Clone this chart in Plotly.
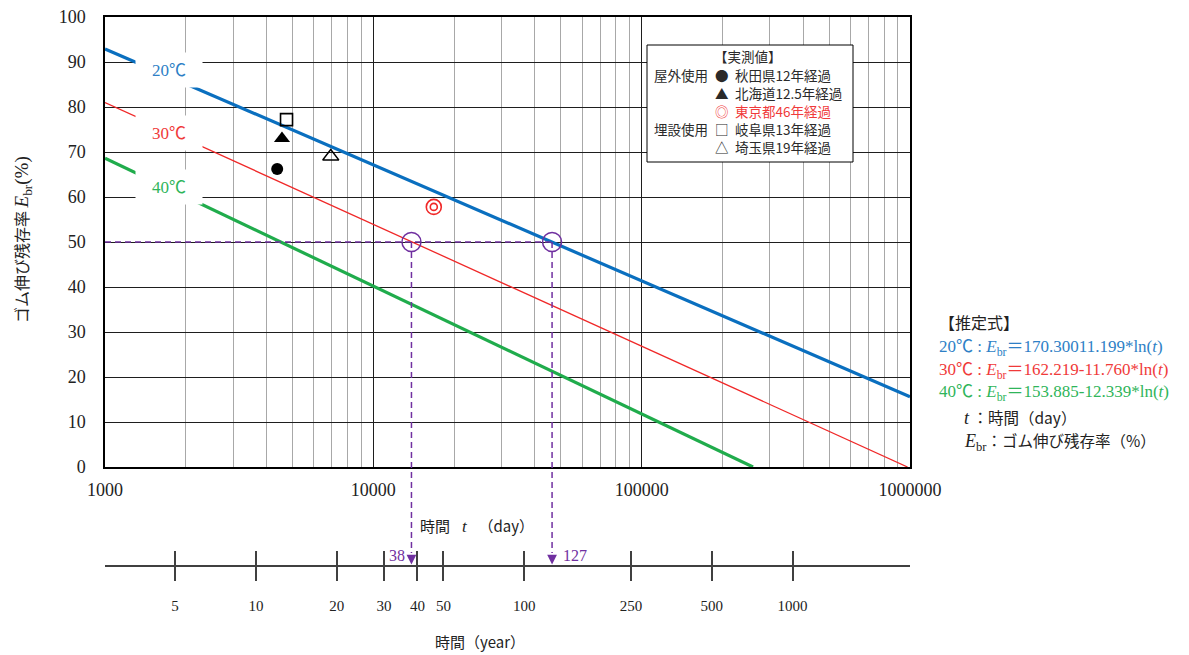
import math
import plotly.graph_objects as go

# ---------------- data ----------------
# Regression lines (end points, days / %)
days_20 = [1000, 1000000]
ebr_20 = [92.9, 15.6]
days_30 = [1000, 979000]
ebr_30 = [81.0, 0.0]
days_40 = [1000, 260000]
ebr_40 = [68.6, 0.0]

# Measured values (days, %)
akita_days, akita_ebr = [4383], [66.2]          # 秋田県12年経過
hokkaido_days, hokkaido_ebr = [4566], [73.0]    # 北海道12.5年経過
tokyo_days, tokyo_ebr = [16801], [57.8]         # 東京都46年経過
gifu_days, gifu_ebr = [4748], [77.2]            # 岐阜県13年経過
saitama_days, saitama_ebr = [6940], [69.0]      # 埼玉県19年経過

# 50 % crossing
cross_years = [38, 127]
cross_level = [50, 50]

# Year axis
year_ticks = [5, 10, 20, 30, 40, 50, 100, 250, 500, 1000]
DAYS_PER_YEAR = 365

x_tickvals = [1000, 10000, 100000, 1000000]
x_ticktext = ["1000", "10000", "100000", "1000000"]
X_RANGE = [3, 6]  # log10(days)

# ---------------- style ----------------
W, H = 1189, 655
ML, MR, MT, MB = 105, 279, 17, 0
PW = W - ML - MR
PH = H - MT - MB
SERIF = "Liberation Serif, Noto Sans CJK JP, serif"
CJK = "Noto Sans CJK JP, sans-serif"
BLUE, RED, GREEN, PURPLE = "#0a6fbf", "#f02828", "#20ac4c", "#7030a0"
BLUE_T, RED_T, GREEN_T = "#2e7fc6", "#f03a3a", "#2fb55a"


def px2x(px):
    return (px - ML) / PW


def py2y(py):
    return (H - MB - py) / PH


def day2paper(d):
    return (math.log10(d) - X_RANGE[0]) / (X_RANGE[1] - X_RANGE[0])


main_dom0 = py2y(467)
yr_dom = [py2y(565), py2y(550)]

cross_days = [y * DAYS_PER_YEAR for y in cross_years]
year_tick_days = [y * DAYS_PER_YEAR for y in year_ticks]

fig = go.Figure()

# regression lines
fig.add_trace(go.Scatter(x=days_20, y=ebr_20, mode="lines", line=dict(color=BLUE, width=3.2), hoverinfo="skip"))
fig.add_trace(go.Scatter(x=days_30, y=ebr_30, mode="lines", line=dict(color=RED, width=1.3), hoverinfo="skip"))
fig.add_trace(go.Scatter(x=days_40, y=ebr_40, mode="lines", line=dict(color=GREEN, width=3.2), hoverinfo="skip"))

# horizontal dashed line at 50 %
fig.add_trace(go.Scatter(x=[days_30[0], cross_days[1]], y=cross_level, mode="lines",
                         line=dict(color=PURPLE, width=1.5, dash="6px,4px"), hoverinfo="skip"))
# crossing circles
fig.add_trace(go.Scatter(x=cross_days, y=cross_level, mode="markers",
                         marker=dict(symbol="circle-open", size=19, color=PURPLE, line=dict(width=1.5, color=PURPLE)),
                         hoverinfo="skip"))

# measured points
fig.add_trace(go.Scatter(x=akita_days, y=akita_ebr, mode="markers",
                         marker=dict(symbol="circle", size=12, color="black")))
fig.add_trace(go.Scatter(x=hokkaido_days, y=hokkaido_ebr, mode="markers",
                         marker=dict(symbol="triangle-up", size=14, color="black")))
fig.add_trace(go.Scatter(x=gifu_days, y=gifu_ebr, mode="markers",
                         marker=dict(symbol="square-open", size=12, color="black", line=dict(width=1.6, color="black"))))
fig.add_trace(go.Scatter(x=saitama_days, y=saitama_ebr, mode="markers",
                         marker=dict(symbol="triangle-up-open", size=14, color="black", line=dict(width=1.4, color="black"))))
fig.add_trace(go.Scatter(x=tokyo_days, y=tokyo_ebr, mode="markers",
                         marker=dict(symbol="circle-open", size=15, color=RED, line=dict(width=1.6, color=RED))))
fig.add_trace(go.Scatter(x=tokyo_days, y=tokyo_ebr, mode="markers",
                         marker=dict(symbol="circle-open", size=7, color=RED, line=dict(width=1.6, color=RED))))

# year axis carrier traces
fig.add_trace(go.Scatter(x=year_tick_days, y=[0.5] * len(year_tick_days), xaxis="x2", yaxis="y2",
                         mode="markers", marker=dict(opacity=0), hoverinfo="skip"))
fig.add_trace(go.Scatter(x=year_tick_days, y=[0.5] * len(year_tick_days), xaxis="x3", yaxis="y2",
                         mode="markers", marker=dict(opacity=0), hoverinfo="skip"))

minor_vals = [m * 10 ** k for k in range(3, 6) for m in range(2, 10)]
year_tick_common = dict(type="log", range=X_RANGE, domain=[0, 1], anchor="y2",
                        tickmode="array", tickvals=year_tick_days,
                        ticklen=14, tickwidth=1.5, tickcolor="#404040",
                        showgrid=False, zeroline=False, automargin=False, fixedrange=True)

fig.update_layout(
    width=W, height=H, autosize=False,
    margin=dict(l=ML, r=MR, t=MT, b=MB, autoexpand=False),
    paper_bgcolor="white", plot_bgcolor="white",
    showlegend=False,
    xaxis=dict(type="log", range=X_RANGE, domain=[0, 1], anchor="y",
               tickmode="array", tickvals=x_tickvals, ticktext=x_ticktext,
               showgrid=True, gridcolor="#1e1e1e", gridwidth=1.3,
               minor=dict(tickmode="array", tickvals=minor_vals, showgrid=True,
                          gridcolor="#a8a8a8", gridwidth=1.4, ticks=""),
               showline=True, linecolor="black", linewidth=1.5, mirror=True,
               ticks="", ticklabelstandoff=6, automargin=False,
               tickfont=dict(family=SERIF, size=18, color="#222")),
    yaxis=dict(range=[0, 100], domain=[main_dom0, 1], anchor="x",
               tickmode="linear", tick0=0, dtick=10,
               showgrid=True, gridcolor="#1e1e1e", gridwidth=1.3, zeroline=False,
               showline=True, linecolor="black", linewidth=1.5, mirror=True,
               ticks="", ticklabelstandoff=14, automargin=False,
               tickfont=dict(family=SERIF, size=18, color="#222")),
    xaxis2=dict(**year_tick_common, ticktext=[str(v) for v in year_ticks], ticks="outside",
                showline=True, linecolor="#404040", linewidth=1.8, mirror=False,
                ticklabelstandoff=12, tickfont=dict(family=SERIF, size=15, color="#222")),
    xaxis3=dict(**year_tick_common, overlaying="x2", side="bottom", ticks="inside",
                showline=False, showticklabels=False),
    yaxis2=dict(domain=yr_dom, range=[0, 1], visible=False, anchor="x2", fixedrange=True, automargin=False),
)

ann = []


def note(px, py, text, size, color, family=CJK, xanchor="center", **kw):
    d = dict(x=px2x(px), y=py2y(py), xref="paper", yref="paper", text=text, showarrow=False,
             xanchor=xanchor, yanchor="middle", font=dict(family=family, size=size, color=color))
    d.update(kw)
    ann.append(d)


# temperature labels with white boxes
for txt, py, col in [("20℃", 70, BLUE_T), ("30℃", 133, RED_T), ("40℃", 187, GREEN_T)]:
    note(169, py, txt, 17, col, family=SERIF, bgcolor="white", width=66, height=34, borderpad=0)

# axis titles
note(477, 525, "時間 <span style='font-family:Liberation Serif;font-size:17px'>  <i>t</i>  </span> （day）", 15, "#222")
note(480, 641, "時間（year）", 15, "#222")
note(22, 240, "ゴム伸び残存率 <span style='font-family:Liberation Serif;font-size:19px'><i>E</i><sub>br</sub>(%)</span>",
     16, "#222", textangle=-90)

# legend box contents
LG = "#2a2a2a"
note(748, 56, "【実測値】", 13.5, LG)
rows = [
    (75, "屋外使用", "●", "秋田県12年経過", LG),
    (93, "", "▲", "北海道12.5年経過", LG),
    (111, "", "◎", "東京都46年経過", RED_T),
    (129, "埋設使用", "□", "岐阜県13年経過", LG),
    (147, "", "△", "埼玉県19年経過", LG),
]
for py, grp, sym, label, col in rows:
    if grp:
        note(652, py, grp, 13.5, LG, xanchor="left")
    note(722, py, sym, 13.5, col)
    note(733, py, label, 13.5, col, xanchor="left")

# right side formula block
note(937, 322, "【推定式】", 16, "#222", xanchor="left")
formulas = [
    (348, "20℃ : <i>E</i><sub>br</sub>＝170.30011.199*ln(<i>t</i>)", BLUE_T),
    (371, "30℃ : <i>E</i><sub>br</sub>＝162.219-11.760*ln(<i>t</i>)", RED_T),
    (393, "40℃ : <i>E</i><sub>br</sub>＝153.885-12.339*ln(<i>t</i>)", GREEN_T),
]
for py, txt, col in formulas:
    note(937, py, txt, 17, col, family=SERIF, xanchor="left")
note(962, 417, "<span style='font-family:Liberation Serif;font-size:18px'><i>t</i></span> ：時間（day）",
     15.5, "#222", xanchor="left")
note(962, 441, "<span style='font-family:Liberation Serif;font-size:18px'><i>E</i><sub>br</sub></span>：ゴム伸び残存率（%）",
     15.5, "#222", xanchor="left")

# arrows + year labels
axis_line_y = py2y(564.5)
for d, yr, side in zip(cross_days, cross_years, ["right", "left"]):
    ann.append(dict(x=math.log10(d), y=axis_line_y, xref="x", yref="paper", text="",
                    showarrow=True, ax=0, ay=-11, arrowhead=2, arrowsize=1.3, arrowwidth=1.5,
                    arrowcolor=PURPLE, standoff=0))
    ann.append(dict(x=math.log10(d), y=py2y(555), xref="x", yref="paper", text=str(yr), showarrow=False,
                    xanchor=side, yanchor="middle", xshift=-4 if side == "right" else 9,
                    font=dict(family=SERIF, size=16, color=PURPLE)))

fig.update_layout(annotations=ann)

shapes = []
# legend box
shapes.append(dict(type="rect", xref="paper", yref="paper", x0=px2x(647), x1=px2x(853),
                   y0=py2y(162), y1=py2y(45), line=dict(color="black", width=1), fillcolor="white", layer="above"))
# vertical dashed lines from 50 % crossings to year axis
y50 = main_dom0 + (1 - main_dom0) * cross_level[0] / 100
for d in cross_days:
    xp = day2paper(d)
    shapes.append(dict(type="line", xref="paper", yref="paper", x0=xp, x1=xp,
                       y0=y50, y1=py2y(553), line=dict(color=PURPLE, width=1.5, dash="6px,4px")))
fig.update_layout(shapes=shapes)

fig.write_html("out.html", config={"displayModeBar": False},
               post_script="document.body.style.margin='0';document.body.style.overflow='hidden';")
